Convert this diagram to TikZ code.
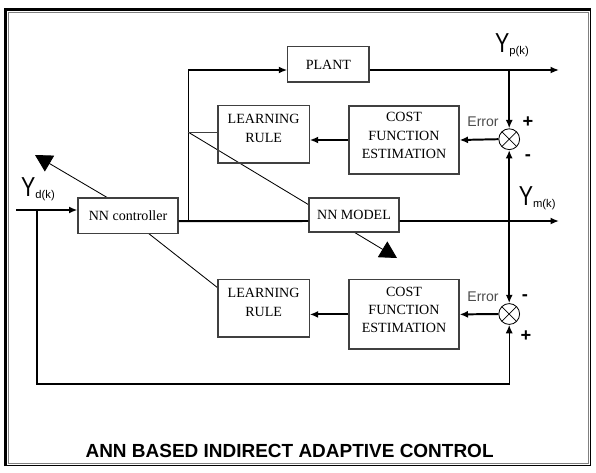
\documentclass[tikz,border=0pt]{standalone}
\usepackage{fontspec}
\setmainfont{Liberation Serif}
\setsansfont{Liberation Sans}
\usetikzlibrary{positioning, arrows.meta, calc, backgrounds}

% output label: tall narrow Y with a small index
\newcommand{\Ysig}[1]{\scalebox{0.78}[1]{\fontsize{19.5}{19.5}\selectfont Y}{\fontsize{8}{8}\selectfont\raisebox{-1.5pt}{#1}}}

\begin{document}
\begin{tikzpicture}[
    block/.style={draw=black!75, line width=0.8pt, fill=white, rectangle, align=center,
                  font=\fontsize{10}{13}\selectfont, inner sep=0pt},
    rulebox/.style={block, minimum width=2.28cm, minimum height=1.43cm, text depth=0.3cm,
                    font=\fontsize{10}{14}\selectfont},
    costbox/.style={block, minimum width=2.75cm, text depth=0.22cm},
    sumnode/.style={draw, line width=0.6pt, circle, fill=white, minimum size=0.52cm, inner sep=0pt,
                    path picture={\draw[line width=0.5pt] (path picture bounding box.north west) -- (path picture bounding box.south east)
                                  (path picture bounding box.north east) -- (path picture bounding box.south west);}},
    sig/.style={line width=1.4pt, -{Latex[length=6pt,width=5pt]}},
    thinwire/.style={line width=0.7pt},
    tune/.style={line width=0.6pt, -{Triangle[length=12pt,width=13pt]}},
    ylab/.style={font=\sffamily, inner sep=0pt},
    errlab/.style={font=\sffamily\fontsize{10}{12}\selectfont, text=black!70, inner sep=0pt},
    signlab/.style={font=\sffamily\bfseries\fontsize{13}{13}\selectfont, inner sep=0pt}
]
\useasboundingbox (0,0) rectangle (14.9,-11.8);

% frame
\draw[black!50, line width=0.7pt] (0.2125,-0.32) rectangle (14.72,-11.575);
\draw[line width=2.2pt] (0.1375,-11.65) |- (14.78,-0.2375);
\draw[line width=1pt] (14.76,-0.2375) |- (0.1375,-11.63);

% blocks
\node[block, minimum width=2.03cm, minimum height=0.88cm] (plant) at (8.21,-1.61) {PLANT};
\node[rulebox, fill=none] (learnA) at (6.59,-3.36) {LEARNING\\RULE};
\node[costbox, minimum height=1.7cm] (costA) at (10.1,-3.5) {COST\\FUNCTION\\ESTIMATION};
\node[sumnode] (sumA) at (12.73,-3.48) {};

\node[block, minimum width=2.5cm, minimum height=0.88cm] (ctrl) at (3.2,-5.39) {NN controller};
\node[block, minimum width=2.25cm, minimum height=0.85cm] (model) at (8.85,-5.375) {NN MODEL};

\node[rulebox] (learnB) at (6.59,-7.71) {LEARNING\\RULE};
\node[costbox, minimum height=1.73cm] (costB) at (10.1,-7.86) {COST\\FUNCTION\\ESTIMATION};
\node[sumnode] (sumB) at (12.73,-7.85) {};

% branch points
\coordinate (yd) at (0.4,-5.25);
\coordinate (fb) at (0.925,-5.25);
\coordinate (fbLow) at (0.925,-9.6);
\coordinate (tap) at (4.7,-5.525);
\coordinate (tapP) at (4.7,-1.75);
\coordinate (tapL) at (4.7,-3.3);
\coordinate (ypEnd) at (13.975,-1.75);
\coordinate (ymEnd) at (13.975,-5.525);
\coordinate (tipA) at (9.925,-6.45);
\coordinate (tipB) at (0.875,-3.875);
\coordinate (lowIn) at (5.45,-7.2);
\coordinate (ctrlB) at (3.7,-5.825);
\coordinate (ctrlT) at (2.7,-4.95);

% weight update arrows, behind the blocks
\begin{scope}[on background layer]
  \draw[tune] (tapL) -- (tipA);
  \draw[line width=0.6pt] (lowIn) -- (ctrlB);
  \draw[tune] (ctrlT) -- (tipB);
\end{scope}

% forward path
\draw[sig] (yd) -- ([yshift=0.14cm]ctrl.west);
\draw[line width=1.4pt] ([yshift=-0.14cm]ctrl.east) -- ([yshift=-0.15cm]model.west);
\draw[thinwire] (tap) -- (tapP);
\draw[sig] (tapP) -- ([yshift=-0.14cm]plant.west);
\draw[thinwire, black!75] (tapL) -- (tapL -| learnA.west);
\draw[sig] ([yshift=-0.14cm]plant.east) -- (ypEnd);
\draw[sig] ([yshift=-0.15cm]model.east) -- (ymEnd);

% error paths
\draw[sig] (sumA |- ypEnd) -- (sumA.north);
\draw[sig] (sumA |- ymEnd) -- (sumA.south);
\draw[sig] (sumA |- ymEnd) -- (sumB.north);
\draw[sig] (sumA.west) -- (costA.east);
\draw[sig] (costA.west) -- (costA.west -| learnA.east);
\draw[sig] (sumB.west) -- (costB.east);
\draw[sig] (costB.west) -- (costB.west -| learnB.east);

% desired output fed back to the lower junction
\draw[line width=1pt, -{Latex[length=6pt,width=5pt]}] (fb) -- (fbLow) -| (sumB.south);

% labels
\node[ylab] (ydLab) at (0.95,-4.73) {\Ysig{d(k)}};
\node[ylab] (ypLab) at (12.8,-1.12) {\Ysig{p(k)}};
\node[ylab] (ymLab) at (13.43,-4.95) {\Ysig{m(k)}};
\node[errlab] (errA) at (12.075,-3.05) {Error};
\node[errlab] (errB) at (12.075,-7.43) {Error};
\node[signlab] (plusA) at (13.2,-3.05) {+};
\node[signlab] (minusA) at (13.2,-3.93) {-};
\node[signlab] (minusB) at (13.125,-7.43) {-};
\node[signlab] (plusB) at (13.15,-8.4) {+};

\node[font=\sffamily\bfseries\fontsize{13.5}{14}\selectfont] (title) at (7.24,-11.28) {ANN BASED INDIRECT ADAPTIVE CONTROL};
\end{tikzpicture}
\end{document}
